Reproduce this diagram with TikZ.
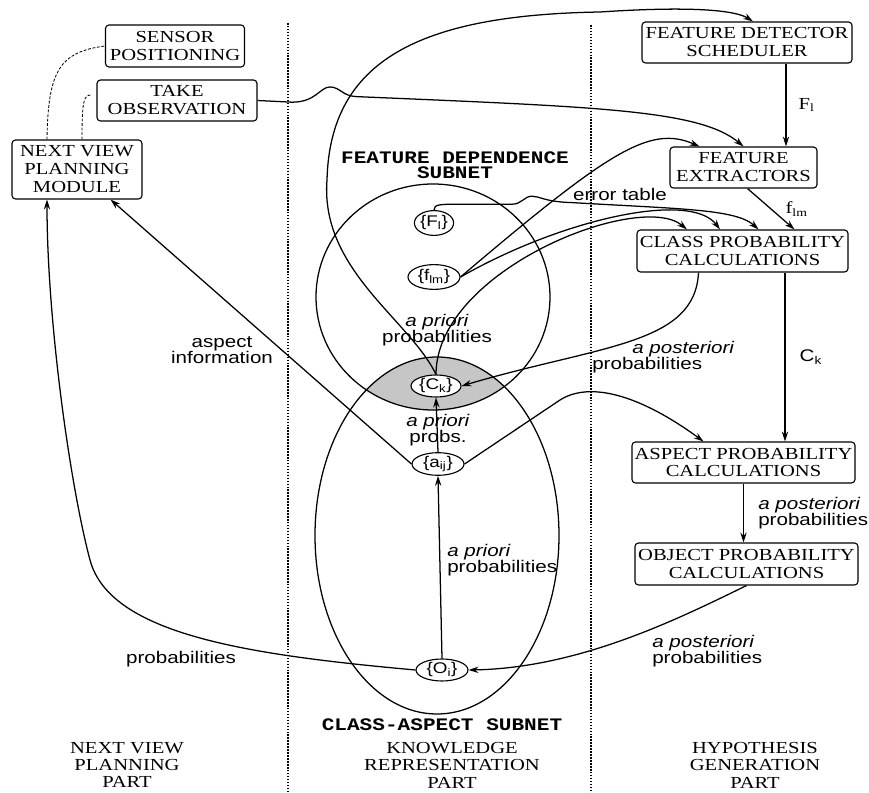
\documentclass[tikz,border=0pt]{standalone}
\usepackage{fontspec}
\setmainfont{Liberation Serif}[FakeStretch=1.22]
\setsansfont{Liberation Sans}[FakeStretch=1.22]
\newfontfamily\slabfont{Liberation Mono}[FakeStretch=1.2]
\usetikzlibrary{shapes.geometric,arrows.meta}

\begin{document}
\begin{tikzpicture}[
    box/.style={draw,rounded corners=2.5pt,align=center,inner sep=1pt,line width=0.8pt,
      font=\fontsize{12}{12.8}\selectfont},
    subset/.style={draw,ellipse,fill=white,inner sep=0pt,minimum height=0.6cm,line width=0.8pt,
      font=\sffamily\fontsize{11}{12}\selectfont},
    lbl/.style={inner sep=0pt,align=center,font=\sffamily\fontsize{12}{11.2}\selectfont},
    part/.style={inner sep=0pt,align=center,font=\fontsize{12}{12.4}\selectfont},
    subnet/.style={inner sep=0pt,align=center,font=\slabfont\bfseries\fontsize{12.5}{11}\selectfont},
    arr/.style={line width=0.9pt,-{Stealth[length=7pt,width=4.5pt]}},
    link/.style={line width=0.9pt},
    guide/.style={densely dotted,line width=1.1pt},
    plan/.style={line width=0.6pt,dash pattern=on 2pt off 1.2pt}]
  \useasboundingbox (0,0) rectangle (21.725,19.825);
  \draw[guide] (7.2,19.25) -- (7.2,0);
  \draw[guide] (14.775,19.2) -- (14.775,0);
  \begin{scope}
    \clip (10.825,12.4) ellipse (2.925cm and 2.825cm);
    \fill[gray!45] (10.925,6.4375) ellipse (3.05cm and 4.4625cm);
  \end{scope}
  \draw[link] (10.825,12.4) ellipse (2.925cm and 2.825cm);
  \draw[link] (10.925,6.4375) ellipse (3.05cm and 4.4625cm);
  \node[subnet] at (11.375,15.7) {FEATURE DEPENDENCE\\SUBNET};
  \node[subnet] at (11.05,1.7) {CLASS-ASPECT SUBNET};

  \node (sp) [box,minimum width=3.475cm,minimum height=1.05cm] at (4.375,18.675) {SENSOR\\POSITIONING};
  \node (to) [box,minimum width=4cm,minimum height=1.025cm] at (4.425,17.3125) {TAKE\\OBSERVATION};
  \node (nvp) [box,minimum width=3.25cm,minimum height=1.475cm] at (1.925,15.5875) {NEXT VIEW\\PLANNING\\MODULE};
  \node (fds) [box,minimum width=5.25cm,minimum height=1.025cm] at (18.675,18.7625) {FEATURE DETECTOR\\SCHEDULER};
  \node (fex) [box,minimum width=3.675cm,minimum height=1.025cm] at (18.5875,15.6375) {FEATURE\\EXTRACTORS};
  \node (cpc) [box,minimum width=5.275cm,minimum height=1.05cm] at (18.5625,13.55) {CLASS PROBABILITY\\CALCULATIONS};
  \node (apc) [box,minimum width=5.575cm,minimum height=1.025cm] at (18.5875,8.2625) {ASPECT PROBABILITY\\CALCULATIONS};
  \node (opc) [box,minimum width=5.575cm,minimum height=1.05cm] at (18.6625,5.725) {OBJECT PROBABILITY\\CALCULATIONS};

  \node (fl) [subset,minimum width=0.95cm,minimum height=0.62cm] at (10.85,14.25) {\{F\textsubscript{l}\}};
  \node (flm) [subset,minimum width=1.3cm,minimum height=0.62cm] at (10.85,12.9) {\{f\textsubscript{lm}\}};
  \node (ck) [subset,minimum width=1.25cm,minimum height=0.55cm] at (10.9,10.175) {\{C\textsubscript{k}\}};
  \node (aij) [subset,minimum width=1.3cm,minimum height=0.55cm] at (10.95,8.225) {\{a\textsubscript{ij}\}};
  \node (oi) [subset,minimum width=1.3cm,minimum height=0.55cm] at (11.05,3.075) {\{O\textsubscript{i}\}};

  \draw[plan] ([xshift=-0.75cm]nvp.north) .. controls (1.2,18.075) and (1.5,18.525) .. (sp.west);
  \draw[plan] ([xshift=0.125cm]nvp.north) .. controls (2.05,17.35) and (2.1,17.45) .. ([xshift=-0.125cm,yshift=0.1375cm]to.west);
  \draw[arr] (to.east) -- (7.3,17.27) .. controls (7.9,17.27) and (8.0,17.65) .. (8.25,17.65)
    .. controls (8.5,17.65) and (8.55,17.43) .. (8.9,17.41)
    .. controls (15,17.15) and (17.5,17.075) .. (fex.north);
  \draw[arr] ([xshift=0.975cm]fds.south) -- ([xshift=0.975cm]fds.south |- fex.north)
    node[midway,right=0.3cm,lbl,font=\fontsize{12}{12}\selectfont] {F\textsubscript{l}};
  \draw[arr] ([xshift=0.1cm]fex.south) -- ([xshift=1.3cm]cpc.north)
    node[midway,right=0.35cm,lbl,font=\fontsize{12}{12}\selectfont] {f\textsubscript{lm}};
  \draw[arr] ([xshift=1.0625cm]cpc.south) -- ([xshift=1.0625cm]cpc.south |- apc.north)
    node[midway,right=0.35cm,lbl] {C\textsubscript{k}};
  \draw[arr] (apc.south) -- (apc.south |- opc.north);
  \node[lbl,anchor=west,align=left] at (18.95,6.9875) {\textit{a posteriori}\\probabilities};

  \draw[arr] (opc.south) .. controls (17,4.375) and (14.5,3.125) .. (oi.east);
  \node[lbl,anchor=west,align=left] at (16.3,3.55) {\textit{a posteriori}\\probabilities};
  \draw[arr] (oi.west) .. controls (6.25,3.45) and (2.75,3.95) .. (2.25,5.825)
    .. controls (1.75,7.7) and (1.175,11.825) .. ([xshift=-0.75cm]nvp.south);
  \node[lbl] at (4.525,3.35) {probabilities};
  \draw[arr] (aij.west) -- ([xshift=-0.8cm]nvp.south east);
  \node[lbl] at (5.55,11.075) {aspect\\information};
  \draw[arr] (aij.east) -- (14.0,9.825) .. controls (14.75,10.3) and (16.0,9.95) .. ([xshift=-1cm]apc.north);
  \draw[arr] (aij.north) -- (ck.south);
  \node[lbl] at (10.95,9.075) {\textit{a priori}\\probs.};
  \draw[arr] (oi.north) -- (aij.south);
  \node[lbl,anchor=west,align=left] at (11.175,5.825) {\textit{a priori}\\probabilities};

  \draw[arr] (ck.north) .. controls (10.9,13.075) and (16.0,15.075) .. ([xshift=-1.39cm]cpc.north);
  \draw[arr] (ck.north) .. controls (10.25,11.825) and (8.0,13.075) .. (8.175,15.325)
    .. controls (8.25,18.325) and (10.5,19.45) .. (15.0,19.525)
    .. controls (17.25,19.675) and (18.375,19.575) .. ([xshift=0.15cm]fds.north);
  \node[lbl] at (10.925,11.575) {\textit{a priori}\\probabilities};
  \draw[arr] (flm.east) .. controls (15.25,16.075) and (16.25,16.7) .. ([xshift=-1.1cm]fex.north);
  \draw[arr] (flm.east) .. controls (14.0,14.325) and (17.25,15.075) .. ([xshift=-0.5625cm]cpc.north);
  \draw[arr] (fl.north) .. controls (10.85,14.72) and (11.0,14.72) .. (11.5,14.72) -- (12.8,14.72)
    .. controls (13.05,14.72) and (13.1,14.92) .. (13.3,14.92)
    .. controls (13.5,14.92) and (13.6,14.78) .. (14.3,14.76)
    .. controls (17.0,14.6) and (18.4,14.6) .. ([xshift=0.4cm]cpc.north);
  \node[lbl] at (15.5,14.975) {error table};
  \draw[arr] ([xshift=-1.1cm]cpc.south) .. controls (17.375,11.2) and (15.0,11.2) .. (ck.east);
  \node[lbl,anchor=west,align=left] at (14.8,10.8875) {\hspace*{1cm}\textit{a posteriori}\\probabilities};

  \node[part] at (3.175,0.7) {NEXT VIEW\\PLANNING\\PART};
  \node[part] at (11.3,0.7) {KNOWLEDGE\\REPRESENTATION\\PART};
  \node[part] at (18.875,0.7) {HYPOTHESIS\\GENERATION\\PART};
\end{tikzpicture}
\end{document}
